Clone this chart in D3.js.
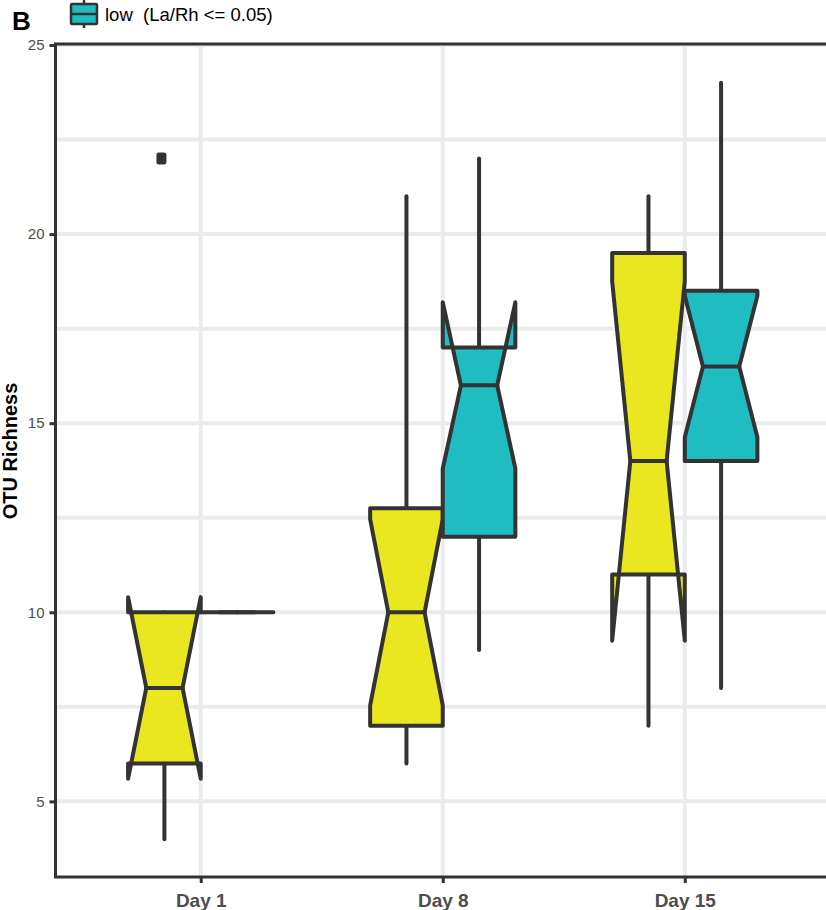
<!DOCTYPE html>
<html>
<head>
<meta charset="utf-8">
<script src="https://cdn.jsdelivr.net/npm/d3@7"></script>
<style>
  html, body { margin: 0; padding: 0; background: #fff; }
  svg { display: block; font-family: "Liberation Sans", Arial, Helvetica, sans-serif; }
</style>
</head>
<body>
<svg id="chart" width="826" height="910"></svg>
<script>
// ---- data ----
const categories = ["Day 1", "Day 8", "Day 15"];
const yTicks = [5, 10, 15, 20, 25];
const yMinorTicks = [7.5, 12.5, 17.5, 22.5];
const legendLabel = "low  (La/Rh <= 0.05)";

// first group (yellow)
const yellowLower      = [4, 6, 7];
const yellowQ1         = [6, 7, 11];
const yellowMedian     = [8, 10, 14];
const yellowQ3         = [10, 12.75, 19.5];
const yellowUpper      = [10, 21, 21];
const yellowNotchLow   = [5.6, 7.54, 9.25];
const yellowNotchHigh  = [10.4, 12.46, 18.75];
const yellowOutliers   = [[22], [], []];

// second group (teal, "low")
const tealLower      = [10, 9, 8];
const tealQ1         = [10, 12, 14];
const tealMedian     = [10, 16, 16.5];
const tealQ3         = [10, 17, 18.5];
const tealUpper      = [10, 22, 24];
const tealNotchLow   = [10, 13.8, 14.63];
const tealNotchHigh  = [10, 18.2, 18.37];
const tealOutliers   = [[], [], []];

const YELLOW = "#EAE620";
const TEAL = "#1FBDC2";
const INK = "#333333";

// ---- layout ----
const svg = d3.select("#chart");
const panel = { left: 55.5, right: 830, top: 45, bottom: 877 };

const y = d3.scaleLinear().domain([3, 25]).range([panel.bottom, panel.top]);
const x = d3.scalePoint().domain(categories).range([panel.left, panel.right]).padding(0.6);
const step = x.step();
const boxW = 0.3 * step;
const dodge = 0.15 * step;

function buildSeries(lower, q1, med, q3, upper, nlo, nhi, outl, color, offset) {
  return categories.map((c, i) => ({
    cat: c, lower: lower[i], q1: q1[i], median: med[i], q3: q3[i], upper: upper[i],
    notchLow: nlo[i], notchHigh: nhi[i], outliers: outl[i], color, offset
  }));
}
const series = [
  ...buildSeries(yellowLower, yellowQ1, yellowMedian, yellowQ3, yellowUpper, yellowNotchLow, yellowNotchHigh, yellowOutliers, YELLOW, -dodge),
  ...buildSeries(tealLower, tealQ1, tealMedian, tealQ3, tealUpper, tealNotchLow, tealNotchHigh, tealOutliers, TEAL, dodge)
];

// ---- grid ----
const grid = svg.append("g");
grid.selectAll("line.hy").data(yTicks.concat(yMinorTicks)).join("line")
  .attr("x1", panel.left).attr("x2", panel.right)
  .attr("y1", d => y(d)).attr("y2", d => y(d))
  .attr("stroke", "#EBEBEB").attr("stroke-width", 4);
grid.selectAll("line.vx").data(categories).join("line")
  .attr("x1", d => x(d)).attr("x2", d => x(d))
  .attr("y1", panel.top).attr("y2", panel.bottom)
  .attr("stroke", "#EBEBEB").attr("stroke-width", 4);

// ---- boxes ----
const boxes = svg.append("g");
series.forEach(d => {
  const cx = x(d.cat) + d.offset;
  const xmin = cx - boxW / 2, xmax = cx + boxW / 2;
  const indent = boxW / 4;
  const g = boxes.append("g");
  // whiskers
  g.append("line").attr("x1", cx).attr("x2", cx).attr("y1", y(d.upper)).attr("y2", y(d.q3))
    .attr("stroke", INK).attr("stroke-width", 4).attr("stroke-linecap", "round");
  g.append("line").attr("x1", cx).attr("x2", cx).attr("y1", y(d.q1)).attr("y2", y(d.lower))
    .attr("stroke", INK).attr("stroke-width", 4).attr("stroke-linecap", "round");
  // notched box polygon (ggplot style)
  const pts = [
    [xmin, y(d.q3)], [xmin, y(d.notchHigh)], [xmin + indent, y(d.median)],
    [xmin, y(d.notchLow)], [xmin, y(d.q1)], [xmax, y(d.q1)], [xmax, y(d.notchLow)],
    [xmax - indent, y(d.median)], [xmax, y(d.notchHigh)], [xmax, y(d.q3)]
  ];
  g.append("path").attr("d", d3.line()(pts) + "Z")
    .attr("fill", d.color).attr("stroke", INK).attr("stroke-width", 4)
    .attr("stroke-linejoin", "round").attr("stroke-linecap", "round");
  // median
  g.append("line").attr("x1", xmin + indent).attr("x2", xmax - indent)
    .attr("y1", y(d.median)).attr("y2", y(d.median))
    .attr("stroke", INK).attr("stroke-width", 4).attr("stroke-linecap", "round");
  // outliers
  g.selectAll("rect.o").data(d.outliers).join("rect")
    .attr("x", cx - 3 - 5).attr("y", v => y(v) - 6)
    .attr("width", 10).attr("height", 12).attr("rx", 2.5)
    .attr("fill", INK);
});

// ---- panel border ----
svg.append("rect")
  .attr("x", panel.left).attr("y", y(25) - 1)
  .attr("width", panel.right - panel.left).attr("height", panel.bottom - y(25) + 1)
  .attr("fill", "none").attr("stroke", INK).attr("stroke-width", 3);

// ---- axes ----
const yAxis = svg.append("g").attr("transform", `translate(${panel.left},0)`)
  .call(d3.axisLeft(y).tickValues(yTicks).tickSize(6).tickPadding(5));
yAxis.select(".domain").remove();
yAxis.selectAll(".tick line").attr("stroke", INK).attr("stroke-width", 3);
yAxis.selectAll(".tick text").attr("fill", "#4D4D4D").attr("font-size", 15)
  .attr("font-family", "Liberation Sans, Arial, sans-serif");

const xAxis = svg.append("g").attr("transform", `translate(0,${panel.bottom})`)
  .call(d3.axisBottom(x).tickSize(6).tickPadding(6));
xAxis.select(".domain").remove();
xAxis.selectAll(".tick line").attr("stroke", INK).attr("stroke-width", 3);
xAxis.selectAll(".tick text").attr("fill", "#4D4D4D").attr("font-size", 19)
  .attr("font-weight", "bold").attr("dy", "0.95em")
  .attr("font-family", "Liberation Sans, Arial, sans-serif");

// ---- titles ----
svg.append("text").attr("transform", "translate(17,451) rotate(-90)")
  .attr("text-anchor", "middle").attr("font-size", 20).attr("font-weight", "bold")
  .attr("fill", "#000").text("OTU Richness");

svg.append("text").attr("x", 12).attr("y", 30).attr("font-size", 26)
  .attr("font-weight", "bold").attr("fill", "#000").text("B");

// ---- legend ----
const lg = svg.append("g").attr("transform", "translate(84,0)");
lg.append("line").attr("x1", 0).attr("x2", 0).attr("y1", -2).attr("y2", 28)
  .attr("stroke", INK).attr("stroke-width", 2.5);
lg.append("rect").attr("x", -13).attr("y", 4).attr("width", 26).attr("height", 20)
  .attr("fill", TEAL).attr("stroke", INK).attr("stroke-width", 2.5).attr("rx", 1);
lg.append("line").attr("x1", -13).attr("x2", 13).attr("y1", 14).attr("y2", 14)
  .attr("stroke", INK).attr("stroke-width", 2.5);
svg.append("text").attr("x", 105).attr("y", 21).attr("font-size", 18.5)
  .attr("fill", "#000").style("white-space", "pre").text(legendLabel);
</script>
</body>
</html>
